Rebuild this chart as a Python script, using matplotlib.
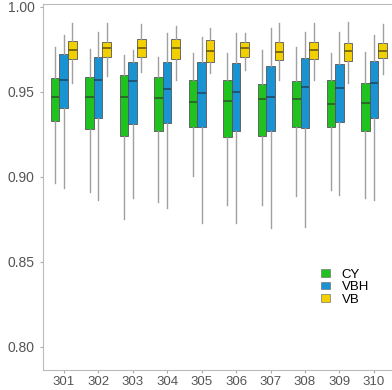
import matplotlib
matplotlib.use("Agg")
import matplotlib.pyplot as plt
from matplotlib.patches import Patch
import numpy as np

plt.rcParams['font.family'] = ['Liberation Sans', 'DejaVu Sans']

plots = ['301', '302', '303', '304', '305', '306', '307', '308', '309', '310']
series = ['CY', 'VBH', 'VB']
colors = ['#1fc21f', '#1a93d3', '#f2d000']
medcolors = ['#2d5a2d', '#1f4a66', '#6a5a10']

# five-number summaries per plot: whisker low, q1, median, q3, whisker high
cy_stats = [
    [0.8965, 0.9326, 0.9471, 0.9582, 0.9765],
    [0.8908, 0.9279, 0.9471, 0.9588, 0.9749],
    [0.8750, 0.9239, 0.9471, 0.9597, 0.9716],
    [0.8849, 0.9271, 0.9463, 0.9588, 0.9706],
    [0.9006, 0.9291, 0.9441, 0.9569, 0.9726],
    [0.8833, 0.9235, 0.9447, 0.9569, 0.9726],
    [0.8833, 0.9239, 0.9455, 0.9545, 0.9745],
    [0.8886, 0.9291, 0.9455, 0.9563, 0.9765],
    [0.8922, 0.9291, 0.9426, 0.9569, 0.9726],
    [0.8873, 0.9271, 0.9432, 0.9550, 0.9736],
]
vbh_stats = [
    [0.8935, 0.9402, 0.9569, 0.9720, 0.9834],
    [0.8863, 0.9347, 0.9569, 0.9702, 0.9849],
    [0.8873, 0.9308, 0.9563, 0.9675, 0.9745],
    [0.8814, 0.9318, 0.9514, 0.9676, 0.9843],
    [0.8729, 0.9291, 0.9490, 0.9675, 0.9824],
    [0.8727, 0.9268, 0.9500, 0.9671, 0.9843],
    [0.8696, 0.9268, 0.9467, 0.9651, 0.9873],
    [0.8706, 0.9288, 0.9526, 0.9696, 0.9853],
    [0.8892, 0.9324, 0.9520, 0.9663, 0.9853],
    [0.8863, 0.9343, 0.9553, 0.9681, 0.9834],
]
vb_stats = [
    [0.9549, 0.9694, 0.9745, 0.9796, 0.9902],
    [0.9592, 0.9706, 0.9759, 0.9794, 0.9906],
    [0.9618, 0.9704, 0.9755, 0.9810, 0.9896],
    [0.9569, 0.9690, 0.9755, 0.9808, 0.9886],
    [0.9608, 0.9676, 0.9741, 0.9804, 0.9873],
    [0.9627, 0.9706, 0.9755, 0.9794, 0.9843],
    [0.9569, 0.9686, 0.9735, 0.9794, 0.9902],
    [0.9569, 0.9690, 0.9745, 0.9794, 0.9902],
    [0.9553, 0.9682, 0.9740, 0.9788, 0.9912],
    [0.9604, 0.9696, 0.9741, 0.9784, 0.9898],
]

fig = plt.figure(figsize=(3.92, 3.90), dpi=100)
ax = fig.add_axes((43 / 392, 1 - 370 / 390, (394.6 - 43) / 392, (370 - 3.5) / 390))

x = np.arange(len(plots))
dodge = 0.25
for k, stats in enumerate([cy_stats, vbh_stats, vb_stats]):
    bxp = []
    for s in stats:
        bxp.append(dict(whislo=s[0], q1=s[1], med=s[2], q3=s[3], whishi=s[4], fliers=[]))
    ax.bxp(bxp, positions=x + (k - 1) * dodge, widths=0.25, showcaps=False,
           patch_artist=True, manage_ticks=False,
           boxprops=dict(facecolor=colors[k], edgecolor='#555555', linewidth=0.6),
           whiskerprops=dict(color='#a0a0a0', linewidth=1.0),
           medianprops=dict(color=medcolors[k], linewidth=1.2))

ax.set_xlim(-0.6, len(plots) - 0.4)
ax.set_ylim(0.7863, 1.0019)
ax.set_xticks(x)
ax.set_xticklabels(plots)
ax.set_yticks([0.80, 0.85, 0.90, 0.95, 1.00])
ax.set_yticklabels(['0.80', '0.85', '0.90', '0.95', '1.00'])
ax.tick_params(colors='#aaaaaa', labelcolor='#555555', labelsize=10, length=2.5, width=0.8)
ax.tick_params(axis='x', labelsize=9.5, pad=1.5)
for side in ['left', 'bottom', 'top', 'right']:
    ax.spines[side].set_color('#bbbbbb')
    ax.spines[side].set_linewidth(0.8)

handles = [Patch(facecolor=c, edgecolor='#777777', linewidth=0.5) for c in colors]
fig.legend(handles, series, loc='upper left', bbox_to_anchor=(314 / 392, 1 - 262 / 390),
           frameon=False, fontsize=9.5, handlelength=0.7, handleheight=0.5,
           handletextpad=0.9, labelspacing=0.05, borderpad=0)

plt.savefig("out.png", dpi=100)
